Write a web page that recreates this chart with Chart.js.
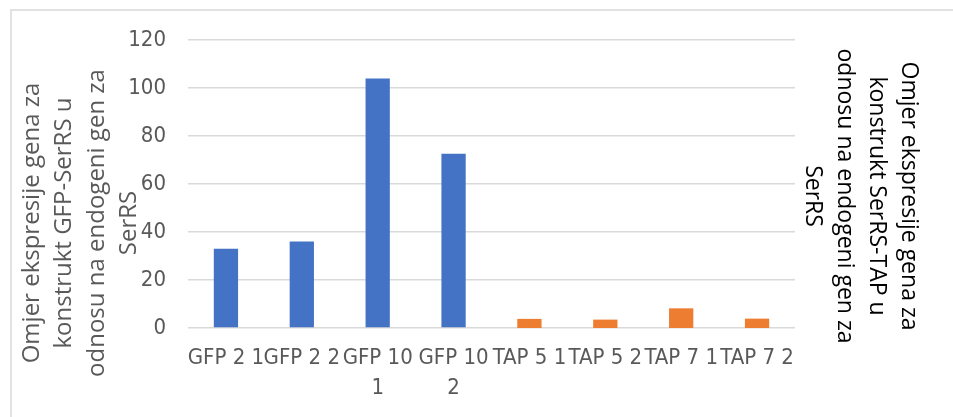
<!DOCTYPE html>
<html>
<head>
<meta charset="utf-8">
<script src="https://cdn.jsdelivr.net/npm/chart.js@4"></script>
<style>
  html, body { margin: 0; padding: 0; background: #ffffff; }
  #wrap { width: 953px; height: 417px; position: relative; }
</style>
</head>
<body>
<div id="wrap"><canvas id="c" width="953" height="417"></canvas></div>
<script>
// ---- data ----
const categories = [["GFP 2 1"], ["GFP 2 2"], ["GFP 10", "1"], ["GFP 10", "2"], ["TAP 5 1"], ["TAP 5 2"], ["TAP 7 1"], ["TAP 7 2"]];
const gfpValues = [33, 36, 104, 72.6, null, null, null, null];
const tapValues = [null, null, null, null, 3.8, 3.5, 8.2, 3.9];
const yTicks = [0, 20, 40, 60, 80, 100, 120];
const leftTitle = ["Omjer ekspresije gena za", "konstrukt GFP-SerRS u", "odnosu na endogeni gen za", "SerRS"];
const rightTitle = ["Omjer ekspresije gena za", "konstrukt SerRS-TAP u", "odnosu na endogeni gen za", "SerRS"];

const tickFont = "'Liberation Sans Narrow', 'DejaVu Sans Condensed', 'Liberation Sans', sans-serif";
const titleFont = "'Open Sans', 'Noto Sans', sans-serif";

const decor = {
  id: 'decor',
  beforeDraw(chart) {
    const ctx = chart.ctx;
    ctx.save();
    ctx.fillStyle = '#ffffff';
    ctx.fillRect(0, 0, chart.width, chart.height);
    ctx.strokeStyle = '#d9d9d9';
    ctx.lineWidth = 1.5;
    ctx.beginPath();
    ctx.moveTo(11, chart.height);
    ctx.lineTo(11, 10);
    ctx.lineTo(chart.width, 10);
    ctx.stroke();
    ctx.restore();
  },
  afterDraw(chart) {
    const ctx = chart.ctx;
    ctx.save();
    ctx.textAlign = 'center';
    ctx.textBaseline = 'middle';
    // left title, reading bottom-to-top
    ctx.fillStyle = '#595959';
    ctx.font = "24px " + titleFont;
    const lx = [32, 64.5, 97, 129];
    leftTitle.forEach((t, i) => {
      ctx.save();
      ctx.translate(lx[i], 223);
      ctx.rotate(-Math.PI / 2);
      ctx.fillText(t, 0, 0);
      ctx.restore();
    });
    // right title, reading top-to-bottom
    ctx.fillStyle = '#000000';
    ctx.font = "23px " + titleFont;
    const rx = [909, 877, 845, 813];
    rightTitle.forEach((t, i) => {
      ctx.save();
      ctx.translate(rx[i], 196);
      ctx.rotate(Math.PI / 2);
      ctx.fillText(t, 0, 0);
      ctx.restore();
    });
    ctx.restore();
  }
};

new Chart(document.getElementById('c'), {
  type: 'bar',
  data: {
    labels: categories,
    datasets: [
      { label: 'GFP', data: gfpValues, backgroundColor: '#4472C4', yAxisID: 'y', grouped: false,
        barPercentage: 0.32, categoryPercentage: 1.0 },
      { label: 'TAP', data: tapValues, backgroundColor: '#ED7D31', yAxisID: 'y2', grouped: false,
        barPercentage: 0.32, categoryPercentage: 1.0 }
    ]
  },
  options: {
    responsive: false,
    animation: false,
    devicePixelRatio: 1,
    layout: { padding: { left: 0, right: 158, top: 40, bottom: 0 } },
    plugins: { legend: { display: false }, tooltip: { enabled: false }, title: { display: false } },
    scales: {
      x: {
        grid: { display: false, drawTicks: false },
        border: { display: false },
        ticks: { color: '#595959', font: { family: tickFont, size: 22, lineHeight: 1.36 }, padding: 15, maxRotation: 0, autoSkip: false },
        afterFit(s) { s.height = 89; }
      },
      y: {
        min: 0, max: 120,
        afterBuildTicks(s) { s.ticks = yTicks.map(v => ({ value: v })); },
        grid: { color: '#d9d9d9', lineWidth: 1.5, drawTicks: false },
        border: { display: false },
        ticks: { color: '#595959', font: { family: tickFont, size: 22 }, padding: 22 },
        afterFit(s) { s.width = 188; }
      },
      y2: {
        display: false, position: 'right', min: 0, max: 120
      }
    }
  },
  plugins: [decor]
});
</script>
</body>
</html>
